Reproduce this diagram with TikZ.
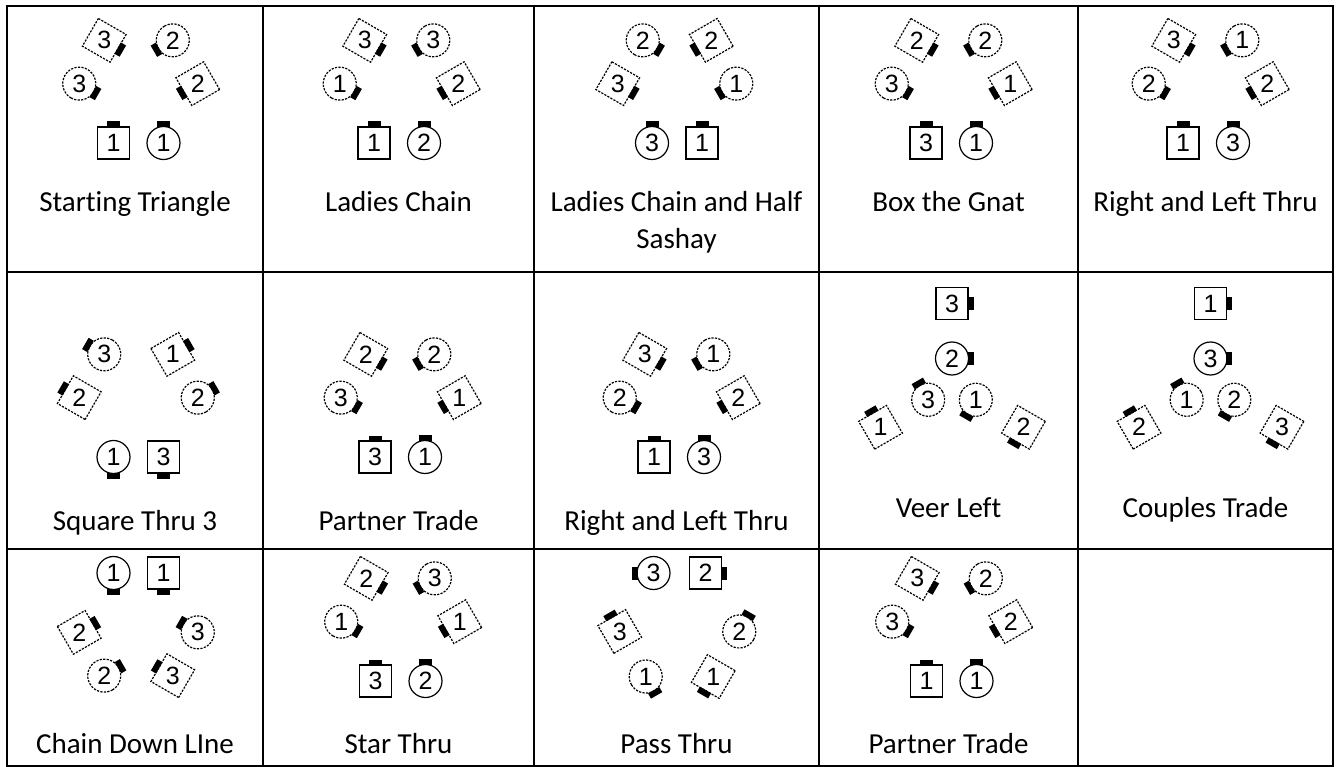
\documentclass[tikz,border=0pt]{standalone}
\usepackage{fontspec}
\setmainfont{Carlito}[Ligatures=NoCommon]
\newfontfamily\numfont{Liberation Sans}
\usetikzlibrary{calc}
\newcount\dcnt
\tikzset{
  shapeline/.style={line width=1.2pt, draw=black},
  dashedline/.style={dash pattern=on 2.2pt off 1.3pt},
  num/.style={font=\numfont\fontsize{25}{25}\selectfont, inner sep=0pt, text=black},
  lbl/.style={font=\fontsize{29}{35}\selectfont, anchor=base, inner sep=0pt},
  gridline/.style={line width=1.8pt, line cap=rect},
}
% one dancer: #1 coordinate name, #2 facing angle, #3 m/w, #4 number
\newcommand\dncr[4]{%
  \pgfmathtruncatemacro\dsolid{mod(round(#2)+720,90)==0 ? 1 : 0}%
  \ifnum\dsolid=1 \tikzset{dancerline/.style={shapeline}}\else\tikzset{dancerline/.style={shapeline,dashedline}}\fi
  \begin{scope}[shift={(#1)}, rotate={#2-90}]
    \if#3m
      \draw[dancerline] (-16,-16) rectangle (16,16);
      \fill (-6.5,15.5) rectangle (6.5,21.5);
    \else
      \draw[dancerline] (0,0) circle (16.5);
      \fill (-6.5,15.8) rectangle (6.5,21.8);
    \fi
  \end{scope}
  \global\advance\dcnt by 1
  \node[num] (d\the\dcnt) at (#1) {#4};
}
% a pair: #1 centre coordinate name, #2 axis angle, #3 half distance, #4 facing A, #5 facing B, #6 A, #7 B
\newcommand\dslot[7]{%
  \pgfmathsetmacro\axA{#2}\pgfmathsetmacro\axB{#2+180}%
  \coordinate (sa) at ($(#1)+(\axA:#3)$);
  \coordinate (sb) at ($(#1)+(\axB:#3)$);
  \dncr{sa}{#4}#6
  \dncr{sb}{#5}#7
}
% triangle of couples: #1 centre, #2 formation rotation, #3 180 inward / 0 outward, #4..#9 dancers
\newcommand\dtri[9]{%
  \coordinate (tc) at #1;
  \pgfmathsetmacro\sangA{270+#2}\pgfmathsetmacro\sfacA{270+#2+#3}\pgfmathsetmacro\saxA{\sfacA+90}%
  \coordinate (cc) at ($(tc)+(\sangA:54)$);
  \dslot{cc}{\saxA}{25}{\sfacA}{\sfacA}{#4}{#5}
  \pgfmathsetmacro\sangB{30+#2}\pgfmathsetmacro\sfacB{30+#2+#3}\pgfmathsetmacro\saxB{\sfacB+90}%
  \coordinate (cc) at ($(tc)+(\sangB:54)$);
  \dslot{cc}{\saxB}{25}{\sfacB}{\sfacB}{#6}{#7}
  \pgfmathsetmacro\sangC{150+#2}\pgfmathsetmacro\sfacC{150+#2+#3}\pgfmathsetmacro\saxC{\sfacC+90}%
  \coordinate (cc) at ($(tc)+(\sangC:54)$);
  \dslot{cc}{\saxC}{25}{\sfacC}{\sfacC}{#8}{#9}
}
\begin{document}
\begin{tikzpicture}[x=1pt,y=1pt]
\fill[white] (0,0) rectangle (1338,-767);
\useasboundingbox (0,0) rectangle (1338,-767);

% table grid
\draw[gridline] (7,-6) rectangle (1333,-766);
\foreach \gx in {263,534,819,1078} \draw[gridline] (\gx,-6) -- (\gx,-766);
\foreach \gy in {272,549} \draw[gridline] (7,-\gy) -- (1333,-\gy);

% ---------- row 1
\dtri{(138.5,-89)}{0}{180}{m1}{w1}{m2}{w2}{m3}{w3}
\dtri{(399,-89)}{0}{180}{m1}{w2}{m2}{w3}{m3}{w1}
\dtri{(677,-89)}{0}{180}{w3}{m1}{w1}{m2}{w2}{m3}
\dtri{(951,-89)}{0}{180}{m3}{w1}{m1}{w2}{m2}{w3}
\dtri{(1208,-89)}{0}{180}{m1}{w3}{m2}{w1}{m3}{w2}

\node[lbl] (t1) at (135,-212) {Starting Triangle};
\node[lbl] (t2) at (398.5,-212) {Ladies Chain};
\node[lbl] (t3) at (676.5,-212) {Ladies Chain and Half};
\node[lbl] (t3b) at (676.5,-249) {Sashay};
\node[lbl] (t4) at (948.5,-212) {Box the Gnat};
\node[lbl] (t5) at (1205.5,-212) {Right and Left Thru};

% ---------- row 2
\dtri{(138.5,-403)}{0}{0}{m3}{w1}{m1}{w2}{m2}{w3}
\dtri{(400,-403)}{0}{180}{m3}{w1}{m1}{w2}{m2}{w3}
\dtri{(679,-403)}{0}{180}{m1}{w3}{m2}{w1}{m3}{w2}
% Veer Left
\coordinate (F1) at (952,-386);
\coordinate (cc) at ($(F1)+(90:55)$);  \dslot{cc}{90}{27.5}{0}{0}{m3}{w2}
\coordinate (cc) at ($(F1)+(210:55)$); \dslot{cc}{210}{27.5}{120}{120}{m1}{w3}
\coordinate (cc) at ($(F1)+(330:55)$); \dslot{cc}{330}{27.5}{240}{240}{m2}{w1}
% Couples Trade
\coordinate (F2) at (1210.5,-386);
\coordinate (cc) at ($(F2)+(90:55)$);  \dslot{cc}{90}{27.5}{0}{0}{m1}{w3}
\coordinate (cc) at ($(F2)+(210:55)$); \dslot{cc}{210}{27.5}{120}{120}{m2}{w1}
\coordinate (cc) at ($(F2)+(330:55)$); \dslot{cc}{330}{27.5}{240}{240}{m3}{w2}

\node[lbl] (t6) at (135,-530) {Square Thru 3};
\node[lbl] (t7) at (398.5,-530) {Partner Trade};
\node[lbl] (t8) at (676.5,-530) {Right and Left Thru};
\node[lbl] (t9) at (948.5,-517) {Veer Left};
\node[lbl] (t10) at (1205.5,-517) {Couples Trade};

% ---------- row 3
\dtri{(138.5,-627)}{180}{180}{m1}{w1}{m2}{w2}{m3}{w3}
\dtri{(400.5,-627)}{0}{180}{m3}{w2}{m1}{w3}{m2}{w1}
% Pass Thru
\coordinate (F3) at (679.5,-627);
\coordinate (cc) at ($(F3)+(90:54)$);  \dslot{cc}{0}{26}{0}{180}{m2}{w3}
\coordinate (cc) at ($(F3)+(210:54)$); \dslot{cc}{120}{26}{120}{300}{m3}{w1}
\coordinate (cc) at ($(F3)+(330:54)$); \dslot{cc}{60}{26}{60}{240}{w2}{m1}
\dtri{(951.5,-627)}{0}{180}{m1}{w1}{m2}{w2}{m3}{w3}

\node[lbl] (t11) at (135,-753) {Chain Down LIne};
\node[lbl] (t12) at (398.5,-753) {Star Thru};
\node[lbl] (t13) at (676.5,-753) {Pass Thru};
\node[lbl] (t14) at (948.5,-753) {Partner Trade};
\end{tikzpicture}
\end{document}
